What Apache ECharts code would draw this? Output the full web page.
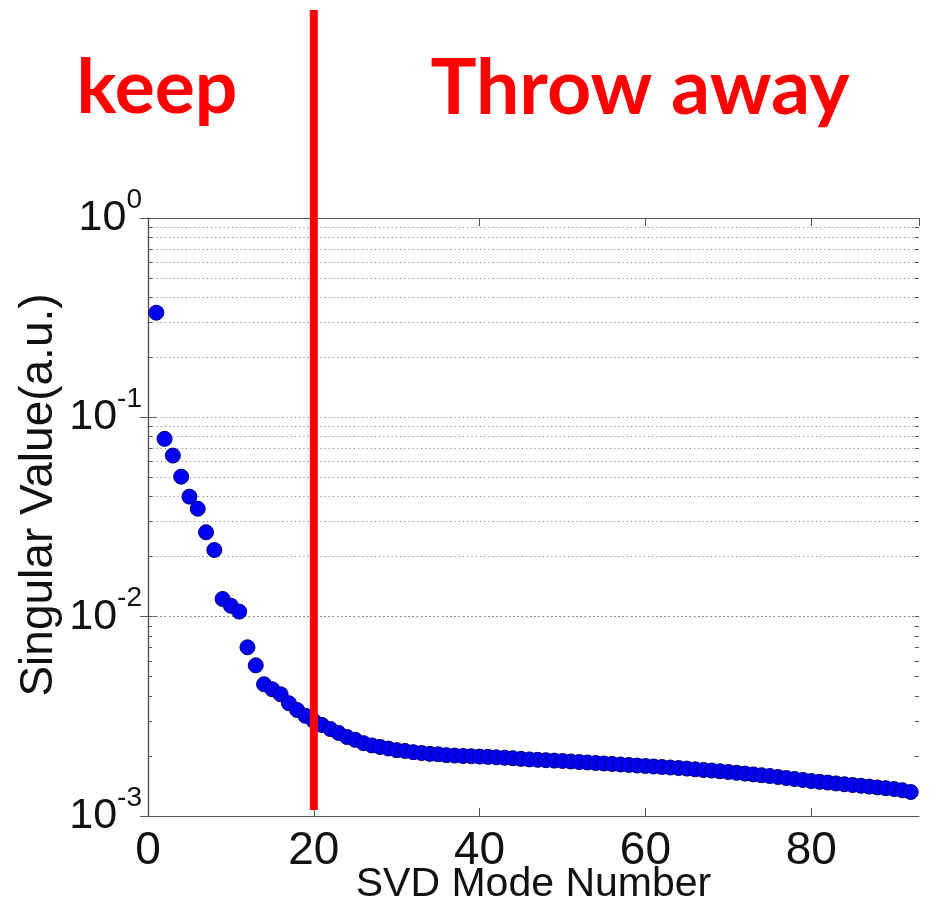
<!DOCTYPE html>
<html>
<head>
<meta charset="utf-8">
<script src="https://cdn.jsdelivr.net/npm/echarts@6/dist/echarts.min.js"></script>
<style>
html,body{margin:0;padding:0;background:#fff;}
#chart{width:935px;height:904px;}
</style>
</head>
<body>
<div id="chart"></div>
<script>
const modeNumbers = [1,2,3,4,5,6,7,8,9,10,11,12,13,14,15,16,17,18,19,20,21,22,23,24,25,26,27,28,29,30,
  31,32,33,34,35,36,37,38,39,40,41,42,43,44,45,46,47,48,49,50,51,52,53,54,55,56,57,58,59,60,
  61,62,63,64,65,66,67,68,69,70,71,72,73,74,75,76,77,78,79,80,81,82,83,84,85,86,87,88,89,90,91,92];
const singularValues = [0.335,0.078,0.0643,0.0504,0.040,0.0348,0.0265,0.0216,0.01227,0.01135,
  0.0106,0.00702,0.0057,0.00458,0.00432,0.00408,0.00368,0.0034,0.00318,0.0030,
  0.00286,0.00273,0.00261,0.00249,0.00241,0.00232,0.00226,0.00222,0.00218,0.00214,
  0.00212,0.00209,0.00207,0.00205,0.00204,0.00202,0.00201,0.00200,0.001995,0.001987,
  0.00198,0.00197,0.00196,0.00195,0.001935,0.001923,0.001914,0.001905,0.001896,0.001888,
  0.001877,0.001866,0.001856,0.001845,0.001834,0.001824,0.001813,0.001803,0.001792,0.001782,
  0.001772,0.001762,0.001751,0.001741,0.001729,0.001715,0.001701,0.00169,0.001676,0.001663,
  0.001648,0.001632,0.001617,0.001602,0.001587,0.001569,0.001551,0.001533,0.001516,0.001498,
  0.001484,0.001471,0.001457,0.001443,0.00143,0.001418,0.001404,0.001391,0.001379,0.001366,
  0.001347,0.001319];
const xTickLabels = ['0','20','40','60','80'];
const gridValues = [0.002,0.003,0.004,0.005,0.006,0.007,0.008,0.009,0.01,
  0.02,0.03,0.04,0.05,0.06,0.07,0.08,0.09,0.1,
  0.2,0.3,0.4,0.5,0.6,0.7,0.8,0.9];
const cutoffMode = 20;
const keepText = 'keep';
const throwText = 'Throw away';
const xName = 'SVD Mode Number';
const yName = 'Singular Value(a.u.)';

const numFont = "'Liberation Sans',Arial,sans-serif";
const chart = echarts.init(document.getElementById('chart'), null, {renderer:'canvas'});

const axisLineStyle = {color:'#555', width:1.2};
const supLabel = v => {
  const e = Math.round(Math.log10(v));
  return '{b|10}{s|' + e + '}';
};

const option = {
  animation:false,
  backgroundColor:'#fff',
  grid:{left:148, right:16, top:218, bottom:88, containLabel:false, outerBoundsMode:'none'},
  xAxis:[{
    type:'value', min:0, max:93, interval:20, position:'bottom',
    name:xName, nameLocation:'middle', nameGap:48, nameMoveOverlap:false,
    nameTextStyle:{fontFamily:numFont, fontSize:41, color:'#111'},
    axisLine:{show:true, lineStyle:axisLineStyle},
    axisTick:{show:true, inside:true, length:8, lineStyle:{color:'#555'}},
    axisLabel:{margin:12, fontFamily:numFont, fontSize:46, color:'#111', showMaxLabel:false,
      formatter: v => (xTickLabels.indexOf(String(v))>=0) ? String(v) : ''},
    splitLine:{show:false}
  },{
    type:'value', min:0, max:93, interval:20, position:'top',
    axisLine:{show:true, lineStyle:axisLineStyle},
    axisTick:{show:true, inside:true, length:8, lineStyle:{color:'#555'}},
    axisLabel:{show:false}, splitLine:{show:false}
  }],
  yAxis:[{
    type:'log', logBase:10, min:0.001, max:1, position:'left',
    name:yName, nameLocation:'middle', nameGap:86, nameRotate:90, nameMoveOverlap:false,
    nameTextStyle:{fontFamily:numFont, fontSize:46, color:'#111', padding:[0,0,0,44]},
    axisLine:{show:true, lineStyle:axisLineStyle},
    axisTick:{show:true, inside:true, length:8, lineStyle:{color:'#555'}},
    axisLabel:{margin:6, formatter:supLabel, rich:{
      b:{fontFamily:numFont, fontSize:43, color:'#111'},
      s:{fontFamily:numFont, fontSize:28, color:'#111', padding:[0,0,36,0]}
    }},
    splitLine:{show:false}, minorTick:{show:false}
  },{
    type:'log', logBase:10, min:0.001, max:1, position:'right',
    axisLine:{show:true, lineStyle:axisLineStyle},
    axisTick:{show:true, inside:true, length:8, lineStyle:{color:'#555'}},
    axisLabel:{show:false}, splitLine:{show:false}
  }],
  series:[{
    type:'scatter',
    xAxisIndex:0, yAxisIndex:0,
    symbol:'circle', symbolSize:15,
    itemStyle:{color:'#0000f2', borderColor:'#00007a', borderWidth:1, opacity:1},
    data: modeNumbers.map((m,i)=>[m, singularValues[i]]),
    z:5,
    markLine:{
      silent:true, symbol:'none', animation:false,
      label:{show:false},
      lineStyle:{type:[1.2,3], color:'#8a8a8a', width:1},
      data: gridValues.map(v=>({yAxis:v}))
    }
  },{
    type:'line', xAxisIndex:0, yAxisIndex:0, data:[], silent:true,
    markLine:{
      silent:true, symbol:'none', animation:false, label:{show:false},
      lineStyle:{type:'solid', color:'#555', width:1},
      data: gridValues.map(v=>[{coord:[0, v]},{coord:[0.5, v]}])
        .concat(gridValues.map(v=>[{coord:[92.5, v]},{coord:[93, v]}]))
    }
  }]
};
chart.setOption(option);

const lineX = chart.convertToPixel({xAxisIndex:0}, cutoffMode);
const lineBottom = chart.convertToPixel({yAxisIndex:0}, 0.001) - 6;
const titleFont = "Lato,'Open Sans',sans-serif";
chart.setOption({
  graphic:[
    {type:'line', z:100, shape:{x1:lineX, y1:10, x2:lineX, y2:lineBottom},
      style:{stroke:'#ff0000', lineWidth:8}},
    {type:'text', z:100, x:157, y:89,
      style:{text:keepText, fill:'#ff0000', font:"bold 75px " + titleFont, align:'center', verticalAlign:'middle'}},
    {type:'text', z:100, x:640, y:89,
      style:{text:throwText, fill:'#ff0000', font:"bold 77px " + titleFont, align:'center', verticalAlign:'middle'}}
  ]
});
</script>
</body>
</html>
